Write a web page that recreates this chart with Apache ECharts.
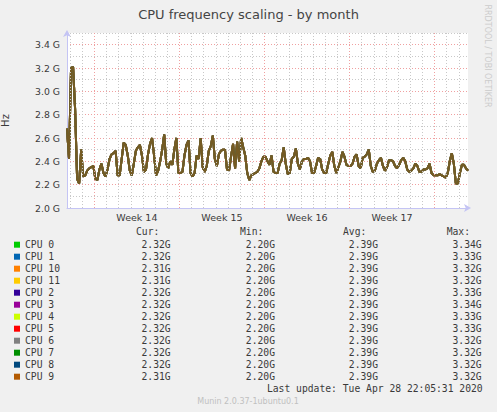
<!DOCTYPE html>
<html>
<head>
<meta charset="utf-8">
<script src="https://cdn.jsdelivr.net/npm/echarts@6/dist/echarts.min.js"></script>
<style>
html,body{margin:0;padding:0;background:#f0f0f0;}
#chart{width:497px;height:412px;}
</style>
</head>
<body>
<div id="chart"></div>
<script>
// ---- data ----
const STEP_HOURS = 4;           // one sample every 4 hours
const RANGE_HOURS = 792;        // 33 days shown
const freqGHz = [
2.68,2.42,3.20,3.21,2.85,2.25,2.21,2.50,2.27,2.28,
2.32,2.34,2.35,2.36,2.25,2.24,2.33,2.38,2.30,2.27,
2.33,2.42,2.46,2.47,2.49,2.28,2.28,2.42,2.56,2.54,
2.45,2.32,2.28,2.38,2.49,2.52,2.54,2.45,2.31,2.33,
2.46,2.55,2.60,2.45,2.28,2.32,2.40,2.50,2.63,2.38,
2.34,2.40,2.37,2.50,2.60,2.30,2.30,2.31,2.45,2.54,
2.58,2.30,2.27,2.30,2.45,2.42,2.60,2.35,2.31,2.36,
2.49,2.53,2.62,2.42,2.36,2.46,2.49,2.50,2.50,2.33,
2.32,2.44,2.55,2.34,2.57,2.40,2.60,2.52,2.45,2.30,
2.24,2.28,2.29,2.30,2.31,2.34,2.40,2.44,2.44,2.40,
2.37,2.45,2.31,2.30,2.30,2.38,2.41,2.52,2.38,2.29,
2.30,2.42,2.44,2.51,2.38,2.33,2.40,2.42,2.42,2.43,
2.40,2.30,2.30,2.36,2.43,2.42,2.33,2.30,2.30,2.38,
2.45,2.48,2.36,2.30,2.35,2.40,2.48,2.44,2.37,2.36,
2.36,2.38,2.44,2.46,2.36,2.34,2.43,2.44,2.46,2.50,
2.36,2.31,2.32,2.38,2.41,2.43,2.36,2.32,2.35,2.41,
2.41,2.40,2.36,2.34,2.37,2.41,2.43,2.40,2.33,2.31,
2.32,2.34,2.38,2.36,2.31,2.31,2.33,2.33,2.34,2.38,
2.30,2.28,2.28,2.28,2.29,2.28,2.27,2.26,2.30,2.40,
2.47,2.38,2.21,2.21,2.30,2.37,2.37,2.34,2.32
];
const cpuNames = ['CPU 0','CPU 1','CPU 10','CPU 11','CPU 2','CPU 3','CPU 4','CPU 5','CPU 6','CPU 7','CPU 8','CPU 9'];
const cpuColors = ['#00CC00','#0066B3','#FF8000','#FFCC00','#330099','#990099','#CCFF00','#FF0000','#808080','#008F00','#00487D','#B35A00'];
const curG = [2.32,2.32,2.31,2.31,2.32,2.32,2.32,2.32,2.32,2.32,2.32,2.31];
const minG = [2.20,2.20,2.20,2.20,2.20,2.20,2.20,2.20,2.20,2.20,2.20,2.20];
const avgG = [2.39,2.39,2.39,2.39,2.39,2.39,2.39,2.39,2.39,2.39,2.39,2.39];
const maxG = [3.34,3.33,3.32,3.32,3.33,3.34,3.33,3.33,3.32,3.32,3.32,3.32];
const yTickLabels = ['2.0 G','2.2 G','2.4 G','2.6 G','2.8 G','3.0 G','3.2 G','3.4 G'];
const weekLabels = ['Week 14','Week 15','Week 16','Week 17'];
const FIRST_DAY_HOUR = 6;            // first midnight after the graph start
const FIRST_WEEK_HOUR = 54;          // first Monday 00:00 (start of week 14)
const HOURS_PER_DAY = 24;
const HOURS_PER_WEEK = 168;
const titleText = 'CPU frequency scaling - by month';
const lastUpdate = 'Last update: Tue Apr 28 22:05:31 2020';
const footer = 'Munin 2.0.37-1ubuntu0.1';
const sideText = 'RRDTOOL / TOBI OETIKER';

// ---- styles ----
const MONO = '"DejaVu Sans Mono", monospace';
const SANS = '"DejaVu Sans", sans-serif';
const TXT = '#3a3a3a';
const MAJOR = '#f0a0a0';
const MINOR = '#c8c8c8';
const AXIS = '#c4c4f4';

// vertical grid lines (days: grey, week starts: red), placed through the x scale
const vGrid = [];
for (let h = FIRST_DAY_HOUR; h < RANGE_HOURS; h += HOURS_PER_DAY) {
  const isWeek = (h - FIRST_WEEK_HOUR) % HOURS_PER_WEEK === 0;
  vGrid.push({ xAxis: h, lineStyle: { color: isWeek ? MAJOR : MINOR, type: [1, 2], width: 1 } });
}
// week labels sit in the middle of each week
const weekCentre = k => FIRST_WEEK_HOUR + HOURS_PER_WEEK / 2 + k * HOURS_PER_WEEK;

const seriesData = freqGHz.map((v, i) => [i * STEP_HOURS, v]);
const fmt = v => v.toFixed(2) + 'G';

const series = [{
  name: '_grid',
  type: 'line',
  data: [],
  z: 1,
  silent: true,
  animation: false,
  markLine: {
    silent: true,
    animation: false,
    symbol: ['none', 'none'],
    label: { show: false },
    emphasis: { disabled: true },
    data: vGrid
  }
}].concat(cpuNames.map((name, i) => ({
  name: name,
  type: 'line',
  data: seriesData,
  showSymbol: false,
  symbol: 'none',
  color: cpuColors[i],
  lineStyle: { width: 2, color: cpuColors[i], opacity: 0.6 },
  itemStyle: { color: cpuColors[i], opacity: 1 },
  animation: false,
  z: 3
})));

const chart = echarts.init(document.getElementById('chart'), null, { renderer: 'svg' });
chart.setOption({
  backgroundColor: '#f0f0f0',
  animation: false,
  title: {
    text: titleText,
    left: 'center',
    top: 3,
    textStyle: { fontFamily: SANS, fontSize: 13, fontWeight: 'normal', color: '#444' }
  },
  grid: {
    left: 67, right: 29, top: 33, bottom: 204,
    outerBoundsMode: 'none',
    containLabel: false,
    show: true, backgroundColor: '#ffffff', borderWidth: 0
  },
  xAxis: {
    type: 'value',
    min: 0, max: RANGE_HOURS, interval: 6,
    axisLine: { show: true, lineStyle: { color: AXIS, width: 1 }, symbol: ['none', 'arrow'], symbolSize: [6, 7], symbolOffset: [0, 3] },
    axisTick: { show: false },
    axisLabel: {
      margin: 4,
      fontFamily: SANS, fontSize: 9.5, color: TXT,
      formatter: v => {
        for (let k = 0; k < weekLabels.length; k++) {
          if (Math.abs(v - weekCentre(k)) < 0.01) return weekLabels[k];
        }
        return '';
      }
    },
    splitLine: { show: false }
  },
  yAxis: {
    type: 'value',
    min: 2.0, max: 3.5, interval: 0.1,
    name: 'Hz',
    nameLocation: 'middle',
    nameGap: 57,
    nameTextStyle: { fontFamily: SANS, fontSize: 10, color: TXT },
    axisLine: { show: true, lineStyle: { color: AXIS, width: 1 }, symbol: ['none', 'arrow'], symbolSize: [6, 7], symbolOffset: [0, 3] },
    axisTick: { show: false },
    axisLabel: {
      margin: 7,
      fontFamily: SANS, fontSize: 9.3, color: TXT,
      formatter: v => {
        const k = Math.round((v - 2.0) * 10);
        return k % 2 === 0 ? (yTickLabels[k / 2] || '') : '';
      }
    },
    splitLine: { show: true, lineStyle: { color: [MAJOR, MINOR], type: [1, 2], width: 1 } }
  },
  legend: {
    orient: 'vertical',
    left: 14,
    top: 238.7,
    padding: 0,
    itemWidth: 6,
    itemHeight: 6,
    itemGap: 0,
    icon: 'rect',
    selectedMode: false,
    data: cpuNames.map((n, i) => ({ name: n, itemStyle: { color: cpuColors[i], opacity: 1 } })),
    formatter: name => {
      const i = cpuNames.indexOf(name);
      return '{n|' + name + '}{c|' + fmt(curG[i]) + '}{m|' + fmt(minG[i]) + '}{a|' + fmt(avgG[i]) + '}{x|' + fmt(maxG[i]) + '}';
    },
    textStyle: {
      fontFamily: MONO, fontSize: 9.7, color: TXT, lineHeight: 12,
      rich: {
        n: { width: 100, align: 'left', fontFamily: MONO, fontSize: 9.7, color: TXT, lineHeight: 12 },
        c: { width: 45.7, align: 'right', fontFamily: MONO, fontSize: 9.7, color: TXT, lineHeight: 12 },
        m: { width: 104.3, align: 'right', fontFamily: MONO, fontSize: 9.7, color: TXT, lineHeight: 12 },
        a: { width: 103, align: 'right', fontFamily: MONO, fontSize: 9.7, color: TXT, lineHeight: 12 },
        x: { width: 103.7, align: 'right', fontFamily: MONO, fontSize: 9.7, color: TXT, lineHeight: 12 }
      }
    }
  },
  graphic: [
    { type: 'text', left: 136, top: 226.5, style: { text: 'Cur:', font: '9.7px ' + MONO, fill: TXT } },
    { type: 'text', left: 240, top: 226.5, style: { text: 'Min:', font: '9.7px ' + MONO, fill: TXT } },
    { type: 'text', left: 343, top: 226.5, style: { text: 'Avg:', font: '9.7px ' + MONO, fill: TXT } },
    { type: 'text', left: 446.7, top: 226.5, style: { text: 'Max:', font: '9.7px ' + MONO, fill: TXT } },
    { type: 'text', right: 14.3, top: 383, style: { text: lastUpdate, font: '9.7px ' + MONO, fill: TXT } },
    { type: 'text', x: 248, y: 401, style: { text: footer, font: '8px ' + SANS, fill: '#c0c0c0', align: 'center', verticalAlign: 'middle' } },
    { type: 'text', x: 487, y: 56, rotation: -Math.PI / 2, style: { text: sideText, font: '8px ' + SANS, fill: '#cccccc', align: 'center', verticalAlign: 'middle' } }
  ],
  series: series
});
</script>
</body>
</html>
